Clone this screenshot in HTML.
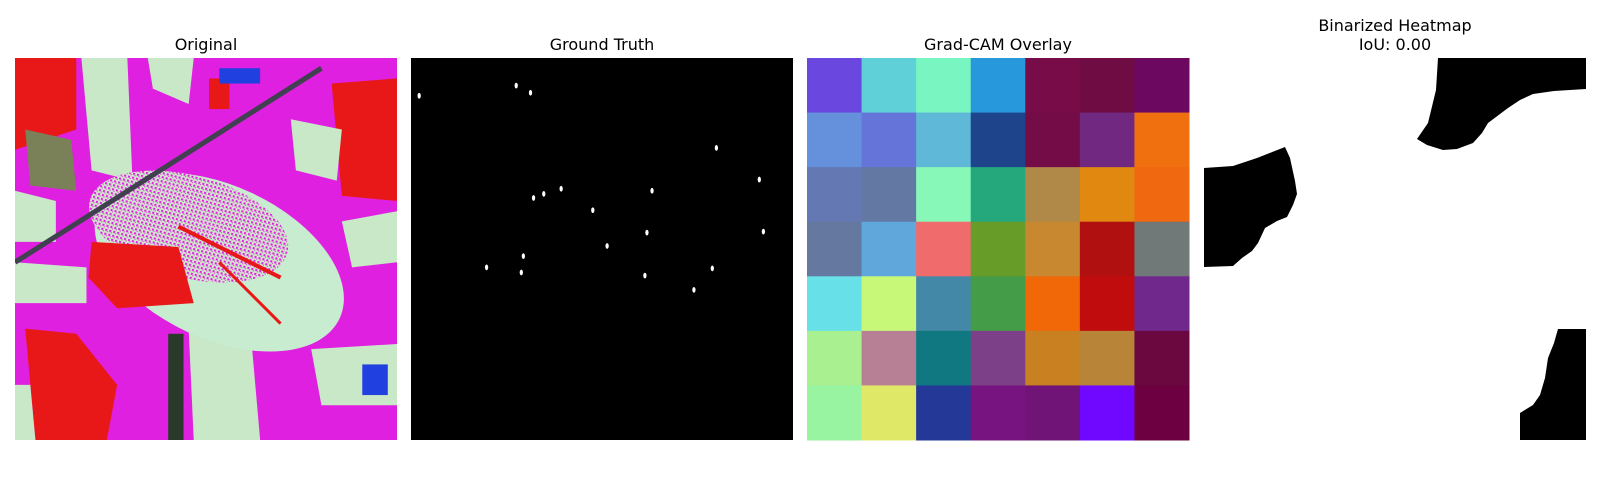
<!DOCTYPE html>
<html><head><meta charset="utf-8"><style>
html,body{margin:0;padding:0;background:#fff;width:1600px;height:500px;overflow:hidden}
svg{display:block}
text{font-family:"DejaVu Sans","Liberation Sans",sans-serif;font-size:16px;fill:#000}
</style></head><body>
<svg width="1600" height="500" viewBox="0 0 1600 500">
<text x="206" y="50" text-anchor="middle">Original</text>
<text x="602" y="50" text-anchor="middle">Ground Truth</text>
<text x="998" y="50" text-anchor="middle">Grad-CAM Overlay</text>
<text x="1395" y="31" text-anchor="middle">Binarized Heatmap</text>
<text x="1395" y="50" text-anchor="middle">IoU: 0.00</text>

<svg x="15" y="58" width="382" height="382" viewBox="0 0 374 374" preserveAspectRatio="none">
<defs><pattern id="stip" width="4" height="4" patternUnits="userSpaceOnUse"><rect width="4" height="4" fill="#d0e8cc"/><rect width="2" height="2" fill="#e020e0"/><rect x="2" y="2" width="1" height="1" fill="#e020e0"/></pattern></defs>
<rect width="374" height="374" fill="#e020e0"/>
<path d="M0 0H60V70L0 90Z" fill="#e81818"/>
<rect x="40" y="40" width="15" height="25" fill="#e81818"/>
<path d="M310 25L374 20V140L320 135Z" fill="#e81818"/>
<path d="M10 265L60 270L100 320L90 374H20Z" fill="#e81818"/>
<rect x="190" y="20" width="20" height="30" fill="#e81818"/>
<path d="M65 0H110L115 120L75 110Z" fill="#c8e8c8"/>
<path d="M130 0H175L170 45L135 30Z" fill="#c8e8c8"/>
<path d="M0 130L40 140L40 180L0 180Z" fill="#c8e8c8"/>
<path d="M0 200L70 205L70 240L0 240Z" fill="#c8e8c8"/>
<path d="M270 60L320 70L315 120L275 110Z" fill="#c8e8c8"/>
<path d="M320 160L374 150V200L330 205Z" fill="#c8e8c8"/>
<path d="M170 265L230 260L240 374H175Z" fill="#c8e8c8"/>
<path d="M290 285L374 280V340L300 340Z" fill="#c8e8c8"/>
<path d="M0 320L15 320L20 374H0Z" fill="#c8e8c8"/>
<path d="M10 70L55 80L60 130L15 125Z" fill="#7a8058"/>
<rect x="150" y="270" width="15" height="104" fill="#2a3a2a"/>
<ellipse cx="200" cy="200" rx="130" ry="75" transform="rotate(25 200 200)" fill="#c8ecd0"/>
<ellipse cx="170" cy="165" rx="100" ry="50" transform="rotate(15 170 165)" fill="url(#stip)"/>
<path d="M75 180L160 185L175 240L100 245L72 215Z" fill="#e81818"/>
<path d="M0 200L300 10" stroke="#404050" stroke-width="5"/>
<path d="M160 165L260 215" stroke="#e81818" stroke-width="4"/>
<path d="M200 200L260 260" stroke="#e81818" stroke-width="3"/>
<rect x="200" y="10" width="40" height="15" fill="#2040e0"/>
<rect x="340" y="300" width="25" height="30" fill="#2040e0"/>
</svg>

<rect x="411" y="58" width="382" height="382" fill="#000"/>
<g id="gt" transform="translate(411,58) scale(1.0214)"></g>

<g id="cam" transform="translate(807,58)"></g>

<svg x="1204" y="58" width="382" height="382" viewBox="0 0 382 382">
<rect width="382" height="382" fill="#fff"/>
<path d="M234 0L232 32L224 65L213 81L223 87L239 92L253 91L269 85L278 75L284 65L304 50L316 42L329 36L350 33L382 31V0Z" fill="#000"/>
<path d="M0 110L29 108L53 100L81 89L86 100L91 123L93 136L89 147L83 159L73 163L61 170L54 185L48 193L38 200L29 208L0 209Z" fill="#000"/>
<path d="M354 271L382 271V382H316V355L329 347L336 337L341 320L344 300L350 285Z" fill="#000"/>
</svg>
</svg>
<script>
const camColors = [
 ["#6a48e0","#60d0d8","#78f5c0","#2898dc","#780c48","#700c44","#6c0860"],
 ["#6490dc","#6474d8","#60b8d8","#1e448c","#740c48","#702880","#f07010"],
 ["#6478b4","#6478a4","#88f8b8","#24a87c","#b08848","#e08810","#f06810"],
 ["#6478a0","#60a8dc","#f06c6c","#689c28","#c88830","#b01010","#707878"],
 ["#68e0e8","#c8f878","#4488a8","#449c48","#f06808","#c00c0c","#70288c"],
 ["#a8f090","#b88094","#107880","#7c4088","#c88020","#b88438","#6c0840"],
 ["#98f4a0","#e0e868","#243898","#781480","#701478","#7008ff","#6c0040"]
];
const gtX = [8,103,117,299,341,120,130,147,236,178,231,345,192,110,74,108,295,229,277];
const gtY = [37,27,34,88,119,137,133,128,130,149,171,170,184,194,205,210,206,213,227];
const NS = "http://www.w3.org/2000/svg";
const cam = document.getElementById("cam");
const cs = 382/7;
camColors.forEach((row,r)=>row.forEach((c,k)=>{
  const e = document.createElementNS(NS,"rect");
  e.setAttribute("x",(k*cs).toFixed(2));
  e.setAttribute("y",(r*cs).toFixed(2));
  e.setAttribute("width",(cs+0.5).toFixed(2));
  e.setAttribute("height",(cs+0.5).toFixed(2));
  e.setAttribute("fill",c);
  
  
  cam.appendChild(e);
}));
const gt = document.getElementById("gt");
gtX.forEach((x,i)=>{
  const e = document.createElementNS(NS,"ellipse");
  e.setAttribute("cx",x);
  e.setAttribute("cy",gtY[i]);
  e.setAttribute("rx",1.6);
  e.setAttribute("ry",2.8);
  e.setAttribute("fill","#fff");
  
  
  gt.appendChild(e);
});
</script>
</body></html>
